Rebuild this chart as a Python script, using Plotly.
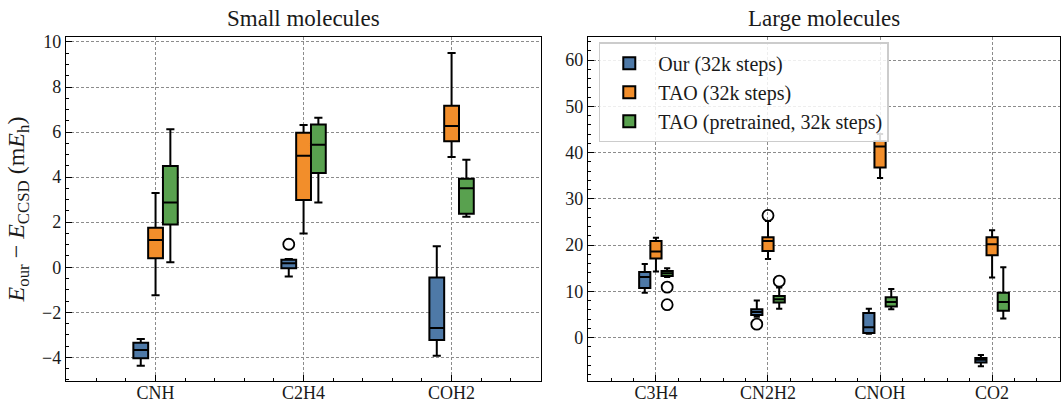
import plotly.graph_objects as go

small_categories = ["CNH", "C2H4", "COH2"]
large_categories = ["C3H4", "CN2H2", "CNOH", "CO2"]
series_names = ["Our (32k steps)", "TAO (32k steps)", "TAO (pretrained, 32k steps)"]
series_colors = ["#4e79a7", "#f28e2b", "#59a14f"]

# per category: (lower whisker, Q1, median, Q3, upper whisker)
small_our = [(-4.37, -4.04, -3.67, -3.35, -3.19), (-0.41, -0.04, 0.18, 0.33, 0.36), (-3.93, -3.23, -2.70, -0.46, 0.93)]
small_tao = [(-1.24, 0.40, 1.21, 1.75, 3.30), (1.50, 2.99, 4.95, 5.97, 6.31), (4.89, 5.59, 6.27, 7.17, 9.51)]
small_pre = [(0.22, 1.90, 2.87, 4.49, 6.12), (2.87, 4.18, 5.44, 6.34, 6.64), (2.24, 2.37, 3.51, 3.93, 4.77)]
small_our_out = [[], [1.02], []]
small_tao_out = [[], [], []]
small_pre_out = [[], [], []]

large_our = [(9.7, 10.7, 13.1, 14.2, 15.9), (4.5, 4.9, 5.5, 6.1, 8.0), (0.8, 1.0, 2.2, 5.3, 6.2), (-6.2, -5.4, -4.8, -4.4, -3.8)]
large_tao = [(14.3, 17.1, 18.6, 20.9, 21.6), (17.0, 18.7, 20.9, 21.7, 25.2), (34.5, 36.8, 41.3, 42.5, 44.0), (13.0, 17.8, 20.2, 21.7, 23.2)]
large_pre = [(13.1, 13.3, 13.9, 14.4, 15.0), (6.2, 7.6, 8.3, 9.0, 10.8), (6.1, 6.7, 7.7, 8.7, 10.5), (4.1, 5.8, 7.7, 9.7, 15.2)]
large_our_out = [[], [2.9], [], []]
large_tao_out = [[], [26.4], [], []]
large_pre_out = [[10.9, 7.1], [12.2], [], []]

offsets = [-0.1, 0.0, 0.1]
box_width = 0.1
FONT = "Liberation Serif"
TXT = "#1a1a1a"

fig = go.Figure()

panels = [
    ("x", "y", small_categories, [small_our, small_tao, small_pre], [small_our_out, small_tao_out, small_pre_out], True),
    ("x2", "y2", large_categories, [large_our, large_tao, large_pre], [large_our_out, large_tao_out, large_pre_out], False),
]

for xa, ya, cats, stats_list, outs_list, show in panels:
    for s, (stats, outs) in enumerate(zip(stats_list, outs_list)):
        pos = [i + 1 + offsets[s] for i in range(len(cats))]
        fig.add_trace(go.Box(
            x=pos,
            lowerfence=[st[0] for st in stats],
            q1=[st[1] for st in stats],
            median=[st[2] for st in stats],
            q3=[st[3] for st in stats],
            upperfence=[st[4] for st in stats],
            width=box_width,
            fillcolor=series_colors[s],
            line=dict(color="black", width=2),
            whiskerwidth=0.55,
            boxpoints=False,
            name=series_names[s],
            legendgroup=series_names[s],
            showlegend=show,
            xaxis=xa, yaxis=ya,
        ))
        ox, oy = [], []
        for i, vals in enumerate(outs):
            for v in vals:
                ox.append(i + 1 + offsets[s])
                oy.append(v)
        if ox:
            fig.add_trace(go.Scatter(
                x=ox, y=oy, mode="markers",
                marker=dict(symbol="circle-open", size=11, color="black", line=dict(width=1.8)),
                showlegend=False, xaxis=xa, yaxis=ya,
            ))

common_axis = dict(
    showline=True, linecolor="black", linewidth=1.3, mirror=True, automargin=False,
    ticks="inside", ticklen=6, tickcolor="black", tickwidth=1.1,
    showgrid=True, gridcolor="#8c8c8c", griddash="3px,2px", gridwidth=0.8,
    zeroline=False, tickfont=dict(family=FONT, size=18, color=TXT),
)
mirror_axis = dict(
    showline=False, showgrid=False, zeroline=False, showticklabels=False, automargin=False,
    ticks="inside", ticklen=6, tickcolor="black", tickwidth=1.1,
)
x_minor = dict(tickmode="linear", tick0=0, dtick=0.2, ticks="inside", ticklen=3, tickcolor="black", tickwidth=1)

fig.update_layout(
    width=1061, height=403,
    margin=dict(l=66, r=1, t=37, b=22),
    plot_bgcolor="white", paper_bgcolor="white",
    boxmode="overlay",
    font=dict(family=FONT, size=18, color=TXT),
    xaxis=dict(domain=[0, 0.478], range=[0.395, 3.605], tickmode="array",
               tickvals=[1, 2, 3], ticktext=small_categories, ticklabelstandoff=-5,
               minor=x_minor, **common_axis),
    yaxis=dict(range=[-5.05, 10.22], dtick=2, tick0=0,
               minor=dict(dtick=0.5, ticks="inside", ticklen=3, tickcolor="black", tickwidth=1),
               title=dict(text="<i>E</i><sub>our</sub> − <i>E</i><sub>CCSD</sub> (m<i>E</i><sub>h</sub>)",
                          font=dict(family=FONT, size=24, color=TXT), standoff=10),
               **common_axis),
    xaxis2=dict(domain=[0.5252, 1], range=[0.394, 4.606], tickmode="array",
                tickvals=[1, 2, 3, 4], ticktext=large_categories, anchor="y2", ticklabelstandoff=-5,
                minor=x_minor, **common_axis),
    yaxis2=dict(range=[-9.4, 65], dtick=10, tick0=0, anchor="x2",
                minor=dict(dtick=2, ticks="inside", ticklen=3, tickcolor="black", tickwidth=1),
                **common_axis),
    # mirrored tick marks on top and right sides
    xaxis3=dict(overlaying="x", side="top", anchor="y", range=[0.395, 3.605], tickmode="array",
                tickvals=[1, 2, 3], minor=x_minor, **mirror_axis),
    yaxis3=dict(overlaying="y", side="right", anchor="x", range=[-5.05, 10.22], dtick=2, tick0=0,
                minor=dict(dtick=0.5, ticks="inside", ticklen=3, tickcolor="black", tickwidth=1), **mirror_axis),
    xaxis4=dict(overlaying="x2", side="top", anchor="y2", range=[0.394, 4.606], tickmode="array",
                tickvals=[1, 2, 3, 4], minor=x_minor, **mirror_axis),
    yaxis4=dict(overlaying="y2", side="right", anchor="x2", range=[-9.4, 65], dtick=10, tick0=0,
                minor=dict(dtick=2, ticks="inside", ticklen=3, tickcolor="black", tickwidth=1), **mirror_axis),
    legend=dict(x=0.536, y=0.985, xanchor="left", yanchor="top", itemwidth=48,
                bgcolor="rgba(255,255,255,0.85)", bordercolor="#cccccc", borderwidth=1.5,
                font=dict(family=FONT, size=20, color=TXT), tracegroupgap=0),
    annotations=[
        dict(text="Small molecules", x=0.239, y=1.0, xref="paper", yref="paper",
             xanchor="center", yanchor="bottom", yshift=4, showarrow=False,
             font=dict(family=FONT, size=23, color=TXT)),
        dict(text="Large molecules", x=0.7626, y=1.0, xref="paper", yref="paper",
             xanchor="center", yanchor="bottom", yshift=4, showarrow=False,
             font=dict(family=FONT, size=23, color=TXT)),
    ],
)

fig.write_html("out.html", config={"displayModeBar": False},
               post_script="document.body.style.margin='0';document.body.style.padding='0';")
